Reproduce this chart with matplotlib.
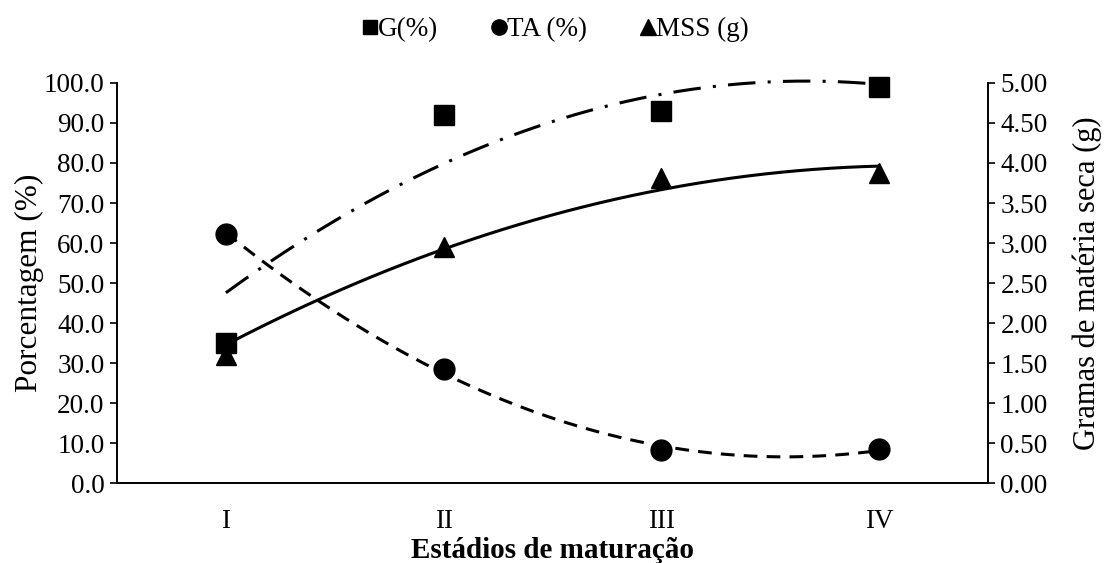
import matplotlib.pyplot as plt
import numpy as np
from matplotlib.ticker import FormatStrFormatter
from matplotlib.lines import Line2D

plt.rcParams['font.family'] = ['Liberation Serif', 'DejaVu Serif']

# Data
stages = ['I', 'II', 'III', 'IV']
g_pct = [35.0, 92.0, 93.0, 99.0]       # G(%) - left axis
ta_pct = [62.2, 28.5, 8.2, 8.5]        # TA (%) - left axis
mss_g = [1.60, 2.95, 3.81, 3.88]       # MSS (g) - right axis

# trendline levels at each stage (order-2 fits)
g_trend = [47.5, 80.0, 97.0, 99.7]
mss_trend = [1.74, 2.89, 3.70, 3.95]

x = np.arange(1, len(stages) + 1)
xs = np.linspace(1, len(stages), 200)

fig = plt.figure(figsize=(11.05, 5.63), dpi=100)
ax = fig.add_axes([0.1059, 0.142, 0.7882, 0.7106])
ax2 = ax.twinx()

# trendlines
g_fit = np.polyval(np.polyfit(x, g_trend, 2), xs)
ta_fit = np.polyval(np.polyfit(x, ta_pct, 2), xs)
mss_fit = np.polyval(np.polyfit(x, mss_trend, 2), xs)

ax.plot(xs, g_fit, color='black', lw=2.2, dashes=(9, 4, 1, 4), clip_on=False)
ax.plot(xs, ta_fit, color='black', lw=2.2, dashes=(4.5, 3), clip_on=False)
ax2.plot(xs, mss_fit, color='black', lw=2.2, clip_on=False)

# markers
ax.plot(x, g_pct, 's', color='black', ms=14, zorder=5, clip_on=False)
ax.plot(x, ta_pct, 'o', color='black', ms=15, zorder=5, clip_on=False)
ax2.plot(x, mss_g, '^', color='black', ms=15, zorder=5, clip_on=False)

ax.set_xlim(0.5, 4.5)
ax.set_ylim(0, 100)
ax.set_yticks(np.arange(0, 101, 10))
ax.yaxis.set_major_formatter(FormatStrFormatter('%.1f'))
ax2.set_ylim(0, 5)
ax2.set_yticks(np.arange(0, 5.01, 0.5))
ax2.yaxis.set_major_formatter(FormatStrFormatter('%.2f'))

ax.set_xticks(x)
ax.set_xticklabels(stages)

for a in (ax, ax2):
    a.spines['top'].set_visible(False)
    for s in a.spines.values():
        s.set_linewidth(1.2)
ax.tick_params(axis='x', length=0, labelsize=19.5, pad=19)
ax.tick_params(axis='y', direction='out', length=5, width=1.2, labelsize=19.5, pad=4)
ax2.tick_params(axis='y', direction='out', length=5, width=1.2, labelsize=19.5, pad=4)

ax.set_ylabel('Porcentagem (%)', fontsize=22.5, labelpad=0)
ax2.set_ylabel('Gramas de matéria seca (g)', fontsize=22, labelpad=18)
ax.set_xlabel('Estádios de maturação', fontsize=21, fontweight='bold', labelpad=2)

handles = [
    Line2D([], [], ls='none', marker='s', color='black', ms=10),
    Line2D([], [], ls='none', marker='o', color='black', ms=11),
    Line2D([], [], ls='none', marker='^', color='black', ms=11),
]
fig.legend(handles, ['G(%)', 'TA (%)', 'MSS (g)'], loc='center',
           bbox_to_anchor=(0.503, 0.947), ncol=3, frameon=False,
           fontsize=19.5, handlelength=0.5, handletextpad=0.05, columnspacing=2.0)

fig.savefig('out.png', dpi=100, facecolor='white')
